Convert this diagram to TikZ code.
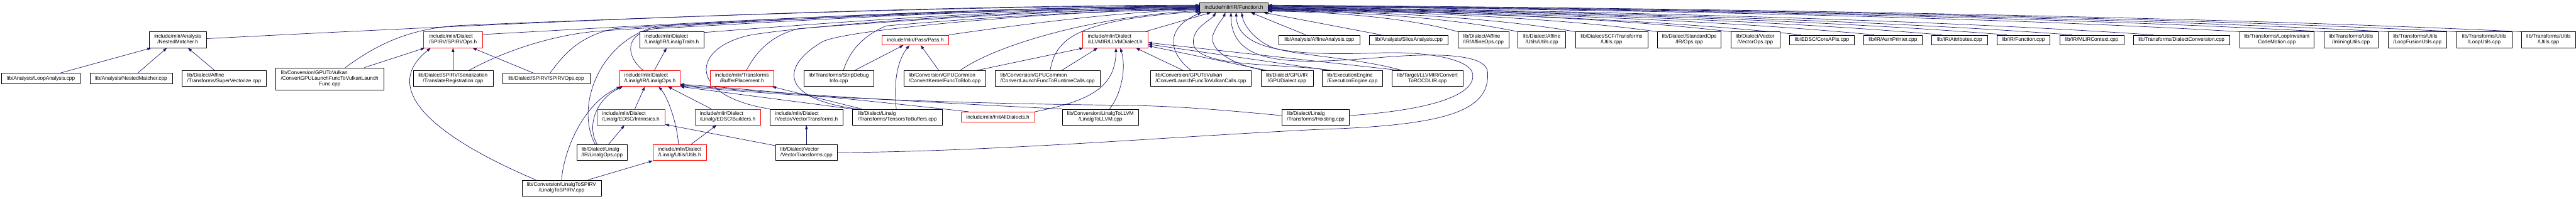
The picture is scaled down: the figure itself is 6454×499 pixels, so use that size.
\documentclass[tikz,border=0pt]{standalone}
\usepackage{fontspec}
\setmainfont{Liberation Sans}
\usetikzlibrary{arrows.meta,calc}
\definecolor{edgec}{HTML}{191970}
\definecolor{boxgray}{HTML}{BFBFBF}
\pgfdeclarelayer{bg}
\pgfsetlayers{bg,main}
\newcommand\two[2]{\begin{tabular}{@{}l@{}}#1\\\multicolumn{1}{@{}c@{}}{#2}\end{tabular}}
\newcommand\three[3]{\begin{tabular}{@{}l@{}}#1\\#2\\\multicolumn{1}{@{}c@{}}{#3}\end{tabular}}
\newcommand\dgfont{\fontsize{13}{14}\selectfont}
\tikzset{
  bx/.style n args={4}{minimum width={(#3-#1)*1pt}, minimum height={(#4-#2)*1pt}, at={({(#1+#3)/2},{(#2+#4)/2})}},
  nd/.style={draw=black, line width=0.9pt, fill=white, inner sep=0pt, font=\dgfont, text=black},
  rd/.style={nd, draw=red},
  gr/.style={nd, fill=boxgray},
  ed/.style={draw=edgec, line width=1.1pt, -{Triangle[length=10pt,width=7pt]}}
}
\begin{document}
\begin{tikzpicture}[x=1pt,y=-1pt]
\useasboundingbox (0,0) rectangle (6454,499);
% ---------- nodes ----------
\node[gr, bx={3006}{6}{3177}{31}] (F) {include/mlir/IR/Function.h};
\node[nd, bx={374}{80}{517}{120}] (NMh) {\two{include/mlir/Analysis}{/NestedMatcher.h}};
\node[nd, bx={4}{184}{201}{210}] (LA) {lib/Analysis/LoopAnalysis.cpp};
\node[nd, bx={225}{184}{432}{210}] (NMc) {lib/Analysis/NestedMatcher.cpp};
\node[nd, bx={456}{177}{667}{217}] (SV) {\two{lib/Dialect/Affine}{/Transforms/SuperVectorize.cpp}};
\node[nd, bx={691}{170}{961}{225}] (CGVL) {\three{lib/Conversion/GPUToVulkan}{/ConvertGPULaunchFuncToVulkanLaunch}{Func.cpp}};
\node[rd, bx={1061}{80}{1209}{120}] (SPh) {\two{include/mlir/Dialect}{/SPIRV/SPIRVOps.h}};
\node[nd, bx={1035}{177}{1235}{217}] (TR) {\two{lib/Dialect/SPIRV/Serialization}{/TranslateRegistration.cpp}};
\node[nd, bx={1259}{184}{1478}{210}] (SPc) {lib/Dialect/SPIRV/SPIRVOps.cpp};
\node[rd, bx={1553}{177}{1704}{217}] (LOh) {\two{include/mlir/Dialect}{/Linalg/IR/LinalgOps.h}};
\node[nd, bx={1603}{80}{1763}{120}] (LTh) {\two{include/mlir/Dialect}{/Linalg/IR/LinalgTraits.h}};
\node[rd, bx={1495}{274}{1666}{314}] (INh) {\two{include/mlir/Dialect}{/Linalg/EDSC/Intrinsics.h}};
\node[nd, bx={1445}{363}{1572}{403}] (LOc) {\two{lib/Dialect/Linalg}{/IR/LinalgOps.cpp}};
\node[nd, bx={1308}{452}{1506}{492}] (L2S) {\two{lib/Conversion/LinalgToSPIRV}{/LinalgToSPIRV.cpp}};
\node[rd, bx={1636}{363}{1770}{403}] (LUh) {\two{include/mlir/Dialect}{/Linalg/Utils/Utils.h}};
\node[rd, bx={1780}{177}{1938}{217}] (BPh) {\two{include/mlir/Transforms}{/BufferPlacement.h}};
\node[rd, bx={1741}{274}{1905}{314}] (BUh) {\two{include/mlir/Dialect}{/Linalg/EDSC/Builders.h}};
\node[nd, bx={1929}{274}{2112}{314}] (VTh) {\two{include/mlir/Dialect}{/Vector/VectorTransforms.h}};
\node[nd, bx={1943}{363}{2098}{403}] (VTc) {\two{lib/Dialect/Vector}{/VectorTransforms.cpp}};
\node[nd, bx={2014}{177}{2189}{217}] (SDI) {\two{lib/Transforms/StripDebug}{Info.cpp}};
\node[nd, bx={2136}{274}{2361}{314}] (TTB) {\two{lib/Dialect/Linalg}{/Transforms/TensorsToBuffers.cpp}};
\node[rd, bx={2210}{88}{2377}{113}] (PAh) {include/mlir/Pass/Pass.h};
\node[nd, bx={2265}{177}{2469}{217}] (CKB) {\two{lib/Conversion/GPUCommon}{/ConvertKernelFuncToBlob.cpp}};
\node[nd, bx={2493}{177}{2756}{217}] (CRT) {\two{lib/Conversion/GPUCommon}{/ConvertLaunchFuncToRuntimeCalls.cpp}};
\node[rd, bx={2408}{281}{2592}{306}] (IAD) {include/mlir/InitAllDialects.h};
\node[nd, bx={2661}{274}{2853}{314}] (L2L) {\two{lib/Conversion/LinalgToLLVM}{/LinalgToLLVM.cpp}};
\node[rd, bx={2712}{80}{2876}{120}] (LLh) {\two{include/mlir/Dialect}{/LLVMIR/LLVMDialect.h}};
\node[nd, bx={2882}{177}{3135}{217}] (CVC) {\two{lib/Conversion/GPUToVulkan}{/ConvertLaunchFuncToVulkanCalls.cpp}};
\node[nd, bx={3159}{177}{3290}{217}] (GPU) {\two{lib/Dialect/GPU/IR}{/GPUDialect.cpp}};
\node[nd, bx={3204}{88}{3407}{113}] (AA) {lib/Analysis/AffineAnalysis.cpp};
\node[nd, bx={3212}{274}{3381}{314}] (HO) {\two{lib/Dialect/Linalg}{/Transforms/Hoisting.cpp}};
\node[nd, bx={3313}{177}{3463}{217}] (EE) {\two{lib/ExecutionEngine}{/ExecutionEngine.cpp}};
\node[nd, bx={3487}{177}{3666}{217}] (RO) {\two{lib/Target/LLVMIR/Convert}{ToROCDLIR.cpp}};
\node[nd, bx={3431}{88}{3628}{113}] (SA) {lib/Analysis/SliceAnalysis.cpp};
\node[nd, bx={3653}{80}{3780}{120}] (AO) {\two{lib/Dialect/Affine}{/IR/AffineOps.cpp}};
\node[nd, bx={3803}{80}{3923}{120}] (AU) {\two{lib/Dialect/Affine}{/Utils/Utils.cpp}};
\node[nd, bx={3947}{80}{4128}{120}] (SCF) {\two{lib/Dialect/SCF/Transforms}{/Utils.cpp}};
\node[nd, bx={4153}{80}{4312}{120}] (STD) {\two{lib/Dialect/StandardOps}{/IR/Ops.cpp}};
\node[nd, bx={4336}{80}{4459}{120}] (VO) {\two{lib/Dialect/Vector}{/VectorOps.cpp}};
\node[nd, bx={4483}{88}{4646}{113}] (CA) {lib/EDSC/CoreAPIs.cpp};
\node[nd, bx={4669}{88}{4816}{113}] (AP) {lib/IR/AsmPrinter.cpp};
\node[nd, bx={4840}{88}{4979}{113}] (AT) {lib/IR/Attributes.cpp};
\node[nd, bx={5003}{88}{5136}{113}] (FC) {lib/IR/Function.cpp};
\node[nd, bx={5160}{88}{5321}{113}] (MC) {lib/IR/MLIRContext.cpp};
\node[nd, bx={5345}{88}{5586}{113}] (DC) {lib/Transforms/DialectConversion.cpp};
\node[nd, bx={5611}{80}{5798}{120}] (LICM) {\two{lib/Transforms/LoopInvariant}{CodeMotion.cpp}};
\node[nd, bx={5822}{80}{5958}{120}] (IU) {\two{lib/Transforms/Utils}{/InliningUtils.cpp}};
\node[nd, bx={5983}{80}{6130}{120}] (LFU) {\two{lib/Transforms/Utils}{/LoopFusionUtils.cpp}};
\node[nd, bx={6155}{80}{6293}{120}] (LU) {\two{lib/Transforms/Utils}{/LoopUtils.cpp}};
\node[nd, bx={6317}{80}{6453}{120}] (TU) {\two{lib/Transforms/Utils}{/Utils.cpp}};
% ---------- edges ----------
\begin{pgfonlayer}{bg}
% NestedMatcher.h
\draw[ed] ($(LA.north)+(47.5,0)$) -- ($(NMh.south)+(-66.5,0)$);
\draw[ed] ($(NMc.north)+(16.5,0)$) -- ($(NMh.south)+(-27.5,0)$);
\draw[ed] ($(SV.north)+(-24,0)$) -- ($(NMh.south)+(25.5,0)$);
\draw[ed] ($(NMh.east)+(0,-3)$) .. controls (1200,62) and (2200,14) .. ($(F.west)+(0,-5.5)$);
% GPU to Vulkan launch func
\draw[ed] ($(CGVL.north)+(39,0)$) .. controls (940,115) and (1020,72) .. (1150,64) .. controls (1600,45) and (2400,15) .. ($(F.west)+(0,-4.5)$);
\draw[ed] ($(CGVL.north)+(87,0)$) -- ($(SPh.south)+(-71,0)$);
% SPIRV
\draw[ed] (TR.north) -- (SPh.south);
\draw[ed] ($(TR.north)+(40,0)$) .. controls (1260,130) and (1380,88) .. (1500,78) .. controls (1900,52) and (2500,17) .. ($(F.west)+(0,-2.5)$);
\draw[ed] ($(SPc.north)+(-31.5,0)$) -- ($(SPh.south)+(49,0)$);
\draw[ed] ($(SPc.north)+(9.5,0)$) .. controls (1410,140) and (1450,90) .. (1540,72) .. controls (1950,45) and (2500,18) .. ($(F.west)+(0,-1.5)$);
\draw[ed] ($(SPh.north east)+(0,7)$) .. controls (1600,65) and (2400,18) .. ($(F.west)+(0,-3.5)$);
\draw[ed] ($(L2S.north)+(-64.5,0)$) .. controls (1150,370) and (930,240) .. ($(SPh.south)+(-56,0)$);
% Linalg
\draw[ed] (L2S.north) .. controls (1412,380) and (1460,260) .. ($(LOh.south)+(-73.5,0)$);
\draw[ed] ($(L2S.north)+(66,0)$) -- (LUh.south west);
\draw[ed] ($(LOc.north)+(-12,0)$) .. controls (1470,320) and (1490,250) .. ($(LOh.south)+(-68.5,0)$);
\draw[ed] ($(LOc.north)+(-17,0)$) .. controls (1440,270) and (1500,100) .. (1650,65) .. controls (2000,48) and (2500,21) .. ($(F.west)+(0,1.5)$);
\draw[ed] ($(LOc.north)+(16,0)$) -- ($(INh.south)+(-16,0)$);
\draw[ed] ($(INh.north)+(10,0)$) -- ($(LOh.south)+(-13,0)$);
\draw[ed] ($(LUh.north)+(-3,0)$) .. controls (1695,300) and (1670,240) .. ($(LOh.south)+(21.5,0)$);
\draw[ed] ($(LUh.north)+(28,0)$) -- ($(BUh.south)+(-28,0)$);
\draw[ed] ($(BUh.north)+(-40.5,0)$) -- ($(LOh.south)+(45,0)$);
\draw[ed] ($(LOh.north)+(11,0)$) -- ($(LTh.south)+(-13,0)$);
\draw[ed] ($(LOh.north)+(-16.5,0)$) .. controls (1570,145) and (1560,85) .. (1640,72) .. controls (2000,52) and (2500,20) .. ($(F.west)+(0,0.5)$);
\draw[ed] ($(LTh.north east)+(0,2)$) .. controls (2100,55) and (2600,19) .. ($(F.west)+(0,-0.5)$);
% Vector
\draw[ed] ($(VTc.north west)+(0,3)$) -- ($(INh.south east)+(0,-2)$);
\draw[ed] (VTc.north) -- (VTh.south);
\draw[ed] (VTh.north west) .. controls (1720,240) and (1730,120) .. (1880,88) .. controls (2050,60) and (2600,22) .. ($(F.west)+(0,2.5)$);
\draw[ed] (VTc.east) .. controls (2500,380) and (2900,345) .. (3300,325) .. controls (3620,315) and (3735,280) .. (3727,180) .. controls (3722,135) and (3600,132) .. (3450,145) .. controls (3250,160) and (3085,170) .. ($(F.south)+(-7.5,0)$);
% Buffer placement / tensors to buffers
\draw[ed] ($(BPh.north)+(11,0)$) .. controls (1895,130) and (1930,90) .. (2000,72) .. controls (2300,48) and (2700,23) .. ($(F.west)+(0,3.5)$);
\draw[ed] ($(TTB.north west)+(24,0)$) -- ($(BPh.south east)+(-4,0)$);
\draw[ed] (TTB.north west) -- (LOh.south east);
\draw[ed] ($(TTB.north west)+(14,0)$) .. controls (1960,250) and (1950,170) .. (2060,105) .. controls (2120,72) and (2700,24) .. ($(F.west)+(0,4.5)$);
\draw[ed] ($(TTB.north)+(-3,0)$) .. controls (2238,200) and (2250,150) .. ($(PAh.south)+(-15,0)$);
% Strip debug info
\draw[ed] ($(SDI.north)+(11.5,0)$) .. controls (2125,140) and (2150,95) .. (2220,65) .. controls (2500,40) and (2800,25) .. ($(F.west)+(0,5.5)$);
\draw[ed] ($(SDI.north)+(40,0)$) -- ($(PAh.south)+(-30,0)$);
% Pass and GPU common
\draw[ed] (PAh.north east) .. controls (2600,55) and (2850,26) .. ($(F.west)+(0,6.5)$);
\draw[ed] ($(CKB.north)+(-15,0)$) -- ($(PAh.south)+(13,0)$);
\draw[ed] ($(CKB.north)+(39,0)$) .. controls (2500,110) and (2750,40) .. ($(F.west)+(0,8.5)$);
\draw[ed] ($(CKB.north)+(80.5,0)$) -- ($(LLh.south west)+(3,0)$);
\draw[ed] ($(CRT.north)+(6.5,0)$) .. controls (2645,100) and (2690,50) .. ($(F.west)+(0,10.5)$);
\draw[ed] ($(CRT.north)+(35.5,0)$) -- ($(LLh.south)+(-44,0)$);
% band into LinalgOps.h
\draw[ed] ($(IAD.north west)+(20,0)$) .. controls (2200,255) and (1900,225) .. ($(LOh.south east)+(0,-6)$);
\draw[ed] (L2L.north west) .. controls (2300,256) and (1950,235) .. ($(LOh.south east)+(0,-4)$);
\draw[ed] ($(HO.west)+(0,-4)$) .. controls (3050,275) and (2950,266) .. (2800,264) .. controls (2400,260) and (2000,245) .. ($(LOh.south east)+(0,-2)$);
% LLVM dialect
\draw[ed] (IAD.north east) .. controls (2720,255) and (2795,225) .. ($(LLh.south)+(2,0)$);
\draw[ed] ($(L2L.north)+(23,0)$) .. controls (2810,235) and (2822,170) .. ($(LLh.south)+(13,0)$);
\draw[ed] ($(LLh.north east)+(-8,0)$) -- ($(F.south)+(-57.5,0)$);
\draw[ed] ($(CVC.north)+(-44.5,0)$) -- ($(LLh.south)+(52,0)$);
\draw[ed] ($(CVC.north)+(-24.5,0)$) .. controls (2925,130) and (2920,70) .. ($(F.south)+(-81.5,0)$);
\draw[ed] ($(GPU.north west)+(14,0)$) -- ($(LLh.east)+(0,15)$);
\draw[ed] ($(GPU.north west)+(10,0)$) .. controls (3080,162) and (3025,120) .. (3040,85) .. controls (3050,60) and (3065,45) .. ($(F.south)+(-21.5,0)$);
\draw[ed] ($(EE.north west)+(18,0)$) -- ($(LLh.east)+(0,11)$);
\draw[ed] ($(EE.north west)+(24,0)$) .. controls (3200,158) and (3000,170) .. (2990,110) .. controls (2985,70) and (3035,50) .. ($(F.south)+(-45.5,0)$);
\draw[ed] ($(RO.north west)+(20,0)$) -- ($(LLh.east)+(0,7)$);
\draw[ed] ($(RO.north west)+(26,0)$) .. controls (3400,145) and (3250,140) .. (3190,120) .. controls (3140,100) and (3115,60) .. ($(F.south)+(19.5,0)$);
\draw[ed] ($(HO.east)+(0,-4)$) .. controls (3600,275) and (3695,235) .. (3690,187) .. controls (3685,145) and (3560,128) .. (3450,133) .. controls (3250,140) and (3100,130) .. ($(F.south)+(5.5,0)$);
\draw[ed] ($(AA.north west)+(68,0)$) -- ($(F.south)+(42.5,0)$);
\draw[ed] ($(SA.north west)+(30,0)$) -- ($(F.south)+(74.5,0)$);
% right group
\draw[ed] (AO.north west) .. controls (3510,39.4) and (3296,29) .. ($(F.east)+(0,9.5)$);
\draw[ed] (AU.north west) .. controls (3615,39.1) and (3333.5,28.25) .. ($(F.east)+(0,8.5)$);
\draw[ed] (SCF.north west) .. controls (3716,38.8) and (3369.5,27.5) .. ($(F.east)+(0,7.5)$);
\draw[ed] (STD.north west) .. controls (3860,38.5) and (3421,26.75) .. ($(F.east)+(0,6.5)$);
\draw[ed] (VO.north west) .. controls (3988,38.2) and (3467,26) .. ($(F.east)+(0,5.5)$);
\draw[ed] ($(CA.north west)+(30,0)$) .. controls (4112,43.5) and (3511,27.25) .. ($(F.east)+(0,4.5)$);
\draw[ed] ($(AP.north west)+(27,0)$) .. controls (4240,43.2) and (3557,26.5) .. ($(F.east)+(0,3.5)$);
\draw[ed] ($(AT.north west)+(25,0)$) .. controls (4359,42.9) and (3599,25.75) .. ($(F.east)+(0,2.5)$);
\draw[ed] ($(FC.north west)+(25,0)$) .. controls (4473,42.6) and (3640,25) .. ($(F.east)+(0,1.5)$);
\draw[ed] ($(MC.north west)+(32,0)$) .. controls (4588,42.3) and (3681,24.25) .. ($(F.east)+(0,0.5)$);
\draw[ed] ($(DC.north west)+(50,0)$) .. controls (4730,42) and (3732,23.5) .. ($(F.east)+(0,-0.5)$);
\draw[ed] (LICM.north west) .. controls (4881,36.1) and (3786,20.75) .. ($(F.east)+(0,-1.5)$);
\draw[ed] (IU.north west) .. controls (5029,35.8) and (3838,20) .. ($(F.east)+(0,-2.5)$);
\draw[ed] (LFU.north west) .. controls (5141,35.5) and (3879,19.25) .. ($(F.east)+(0,-3.5)$);
\draw[ed] (LU.north west) .. controls (5262,35.2) and (3922,18.5) .. ($(F.east)+(0,-4.5)$);
\draw[ed] (TU.north west) .. controls (5375,34.9) and (3962,17.75) .. ($(F.east)+(0,-5.5)$);
\end{pgfonlayer}
\end{tikzpicture}
\end{document}
